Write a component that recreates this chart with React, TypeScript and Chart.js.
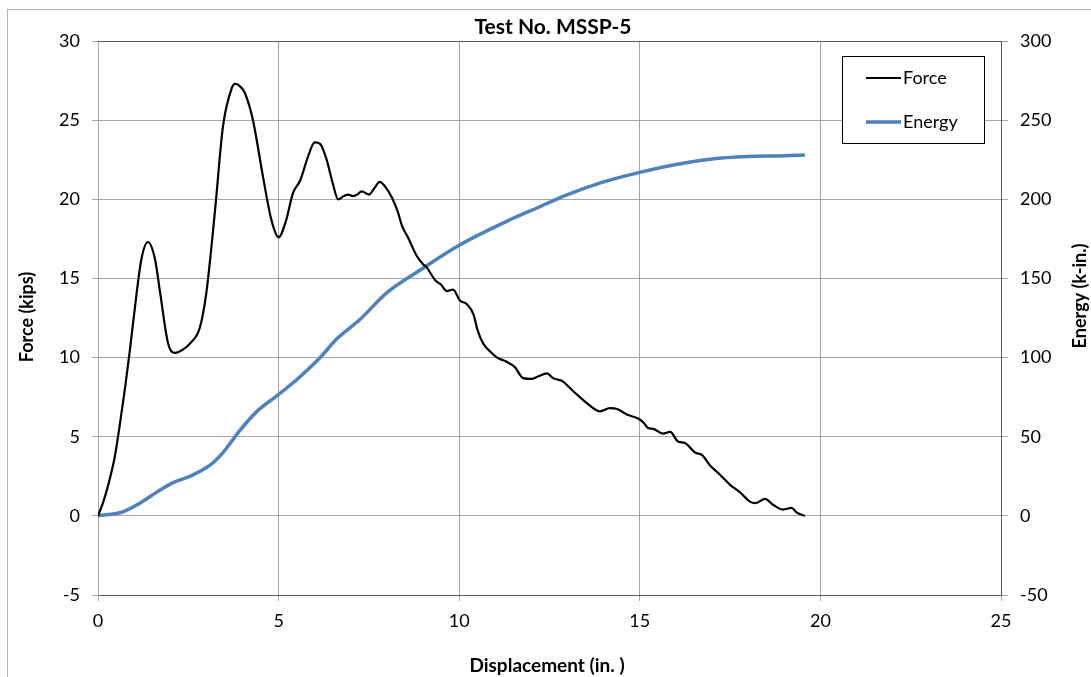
import React, { useEffect, useRef } from "react";
import { Chart, registerables } from "chart.js";

Chart.register(...registerables);

const chartTitle = "Test No. MSSP-5";
const xTitle = "Displacement (in. )";
const yTitle = "Force (kips)";
const y1Title = "Energy (k-in.)";

const forceX = [0, 0.15, 0.3, 0.47, 0.6, 0.75, 0.89, 1.05, 1.2, 1.38, 1.58, 1.72, 1.94, 2.13, 2.35, 2.55, 2.82, 3.0, 3.24, 3.46, 3.7, 3.8, 3.95, 4.07, 4.29, 4.57, 4.8, 5.0, 5.2, 5.4, 5.6, 5.8, 6.0, 6.15, 6.33, 6.5, 6.65, 6.8, 6.92, 7.06, 7.18, 7.3, 7.5, 7.65, 7.8, 7.95, 8.14, 8.3, 8.42, 8.58, 8.7, 8.83, 9.0, 9.1, 9.33, 9.5, 9.66, 9.83, 10.02, 10.2, 10.4, 10.5, 10.66, 10.85, 11.05, 11.3, 11.54, 11.77, 12.0, 12.18, 12.43, 12.6, 12.87, 13.1, 13.34, 13.6, 13.9, 14.17, 14.37, 14.64, 14.95, 15.1, 15.23, 15.37, 15.64, 15.84, 16.06, 16.25, 16.53, 16.72, 16.94, 17.22, 17.5, 17.77, 18.05, 18.19, 18.47, 18.69, 18.96, 19.2, 19.35, 19.57];
const forceY = [0, 0.9, 2.1, 3.8, 5.7, 8.1, 10.6, 13.7, 16.2, 17.3, 16.2, 14.1, 10.9, 10.3, 10.5, 10.9, 11.9, 14.1, 19.3, 24.6, 27.0, 27.3, 27.1, 26.7, 25.0, 21.4, 18.7, 17.6, 18.6, 20.4, 21.2, 22.6, 23.6, 23.5, 22.5, 21.0, 20.0, 20.2, 20.3, 20.2, 20.3, 20.5, 20.3, 20.7, 21.1, 20.8, 20.1, 19.2, 18.3, 17.6, 17.0, 16.4, 15.9, 15.7, 14.9, 14.6, 14.2, 14.3, 13.6, 13.4, 12.7, 11.8, 10.9, 10.4, 10.0, 9.75, 9.4, 8.7, 8.65, 8.8, 9.0, 8.7, 8.5, 8.0, 7.5, 7.0, 6.6, 6.8, 6.75, 6.4, 6.15, 5.9, 5.55, 5.5, 5.2, 5.3, 4.7, 4.6, 4.0, 3.85, 3.2, 2.6, 1.96, 1.5, 0.9, 0.8, 1.07, 0.7, 0.4, 0.5, 0.2, 0];

const energyX = [0, 0.69, 1.16, 1.63, 2.08, 2.55, 3.1, 3.46, 3.93, 4.4, 4.96, 5.5, 6.15, 6.62, 7.25, 8.0, 8.9, 10.0, 11.4, 12.0, 13.0, 14.0, 15.0, 16.0, 17.0, 18.0, 19.0, 19.57];
const energyY = [0, 2.5, 8, 15, 21, 25, 32, 40, 54, 66, 76, 86, 100, 112, 124, 141, 155, 171, 187, 193, 203, 211, 217, 222, 225.5, 227, 227.5, 228];

const xTicks = [0, 5, 10, 15, 20, 25];
const yTicks = [-5, 0, 5, 10, 15, 20, 25, 30];
const y1Ticks = [-50, 0, 50, 100, 150, 200, 250, 300];

const FONT = "Lato, 'Open Sans', sans-serif";
const GRID = "#a6a6a6";
const DARK = "#595959";

const decor = {
  id: "decor",
  afterDraw(chart: any) {
    const { ctx, chartArea } = chart;
    const { left, right, top } = chartArea;
    ctx.save();
    ctx.strokeStyle = DARK;
    ctx.lineWidth = 1;
    ctx.beginPath();
    ctx.moveTo(left, top + 0.5);
    ctx.lineTo(right, top + 0.5);
    ctx.stroke();
    ctx.fillStyle = "#000";
    ctx.textAlign = "center";
    ctx.textBaseline = "middle";
    ctx.font = `bold 21px ${FONT}`;
    ctx.fillText(chartTitle, 553, 27);
    ctx.font = `bold 19px ${FONT}`;
    ctx.fillText(xTitle, 547, 666);
    ctx.font = `bold 18px ${FONT}`;
    ctx.save();
    ctx.translate(27, 317);
    ctx.rotate(-Math.PI / 2);
    ctx.fillText(yTitle, 0, 0);
    ctx.restore();
    ctx.save();
    ctx.translate(1080, 296);
    ctx.rotate(-Math.PI / 2);
    ctx.fillText(y1Title, 0, 0);
    ctx.restore();
    const lx = 842, ly = 56, lw = 142, lh = 87;
    ctx.fillStyle = "#fff";
    ctx.fillRect(lx, ly, lw, lh);
    ctx.strokeStyle = "#000";
    ctx.lineWidth = 1;
    ctx.strokeRect(lx + 0.5, ly + 0.5, lw, lh);
    const rows = [78, 122];
    chart.data.datasets.forEach((ds: any, i: number) => {
      ctx.strokeStyle = ds.borderColor;
      ctx.lineWidth = ds.borderWidth;
      ctx.beginPath();
      ctx.moveTo(866, rows[i]);
      ctx.lineTo(901, rows[i]);
      ctx.stroke();
      ctx.fillStyle = "#000";
      ctx.font = `18px ${FONT}`;
      ctx.textAlign = "left";
      ctx.textBaseline = "middle";
      ctx.fillText(ds.label, 903, rows[i]);
    });
    ctx.restore();
  },
};

export default function App() {
  const ref = useRef<HTMLCanvasElement>(null);
  useEffect(() => {
    if (!ref.current) return;
    const forceData = forceX.map((x, i) => ({ x, y: forceY[i] }));
    const energyData = energyX.map((x, i) => ({ x, y: energyY[i] }));
    const tickFont = { family: FONT, size: 18 };
    const chart = new Chart(ref.current, {
      type: "line",
      data: {
        datasets: [
          {
            label: "Force",
            data: forceData,
            borderColor: "#000000",
            borderWidth: 2.2,
            pointRadius: 0,
            cubicInterpolationMode: "monotone",
            yAxisID: "y",
          },
          {
            label: "Energy",
            data: energyData,
            borderColor: "#4f81bd",
            borderWidth: 3.5,
            pointRadius: 0,
            cubicInterpolationMode: "monotone",
            yAxisID: "y1",
          },
        ],
      },
      plugins: [decor],
      options: {
        animation: false,
        responsive: false,
        maintainAspectRatio: false,
        layout: { padding: { top: 41, left: 0, right: 0, bottom: 0 } },
        plugins: { legend: { display: false }, tooltip: { enabled: false }, title: { display: false } },
        scales: {
          x: {
            type: "linear",
            min: 0,
            max: 25,
            afterFit: (s: any) => { s.height = 82; },
            afterBuildTicks: (s: any) => { s.ticks = xTicks.map((v) => ({ value: v })); },
            ticks: { font: tickFont, color: "#000", padding: 9 },
            grid: { color: GRID, tickColor: GRID, tickLength: 6, lineWidth: 1 },
            border: { color: DARK, width: 1 },
          },
          y: {
            type: "linear",
            position: "left",
            min: -5,
            max: 30,
            afterFit: (s: any) => { s.width = 98; },
            afterBuildTicks: (s: any) => { s.ticks = yTicks.map((v) => ({ value: v })); },
            ticks: { font: tickFont, color: "#000", padding: 12 },
            grid: { color: GRID, tickColor: GRID, tickLength: 6, lineWidth: 1 },
            border: { color: GRID, width: 1 },
          },
          y1: {
            type: "linear",
            position: "right",
            min: -50,
            max: 300,
            afterFit: (s: any) => { s.width = 90; },
            afterBuildTicks: (s: any) => { s.ticks = y1Ticks.map((v) => ({ value: v })); },
            ticks: { font: tickFont, color: "#000", padding: 12 },
            grid: { drawOnChartArea: false, color: GRID, tickColor: GRID, tickLength: 7 },
            border: { color: DARK, width: 1 },
          },
        },
      },
    } as any);
    return () => chart.destroy();
  }, []);

  return (
    <div style={{ position: "fixed", left: 0, top: 0, width: 1091, height: 677, background: "#fff" }}>
      <div
        style={{
          position: "absolute",
          left: 7,
          top: 9,
          right: -10,
          bottom: -10,
          borderTop: "1px solid #b4b4b4",
          borderLeft: "1px solid #b4b4b4",
        }}
      />
      <canvas ref={ref} width={1091} height={677} style={{ position: "absolute", left: 0, top: 0 }} />
    </div>
  );
}
